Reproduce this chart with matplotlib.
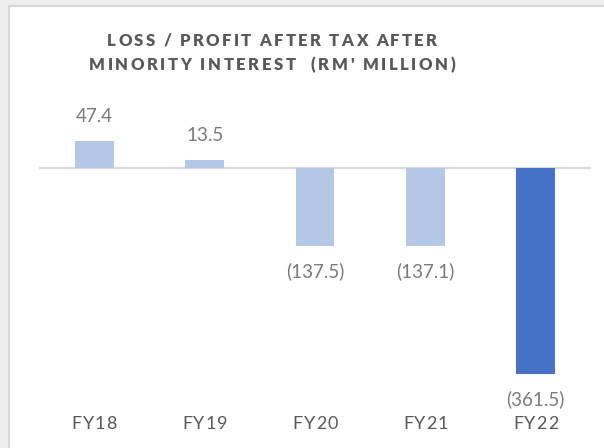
import matplotlib.pyplot as plt
from matplotlib.patches import Rectangle
from matplotlib.font_manager import FontProperties, findfont
from matplotlib.ft2font import FT2Font

# values
years = ["FY18", "FY19", "FY20", "FY21", "FY22"]
profit = [47.4, 13.5, -137.5, -137.1, -361.5]
bar_colors = ["#B4C7E7", "#B4C7E7", "#B4C7E7", "#B4C7E7", "#4472C4"]

title_lines = ["LOSS / PROFIT AFTER TAX AFTER", "MINORITY INTEREST  (RM' MILLION)"]

W, H = 604, 448
DPI = 100
cap_font = "Lato"


def fmt(v):
    if v < 0:
        return "({:.1f})".format(-v)
    return "{:.1f}".format(v)


def tracked(fig, xc, ybase, s, size, weight, color, width):
    # letter-spaced text, placed glyph by glyph with even gaps between glyph ink
    fp = FontProperties(family=cap_font, weight=weight, size=size)
    ft = FT2Font(findfont(fp))
    ft.set_size(size, DPI)
    widths = []
    for c in s:
        if c == " ":
            widths.append(ft.load_char(ord(c)).linearHoriAdvance / 65536)
        else:
            ft.set_text(c)
            widths.append(ft.get_width_height()[0] / 64)
    gap = (width - sum(widths)) / (len(s) - 1)
    xp = xc - width / 2
    for c, w in zip(s, widths):
        if c != " ":
            fig.text((xp + w / 2) / W, 1 - ybase / H, c, ha="center", va="baseline",
                     fontproperties=fp, color=color)
        xp += w + gap


fig = plt.figure(figsize=(W / DPI, H / DPI), dpi=DPI)
fig.patch.set_facecolor("#eeeeee")
fig.patches.append(Rectangle((9 / W, -0.01), 1, 1.01 - 6 / H, transform=fig.transFigure,
                             facecolor="white", edgecolor="#d6d6d6", linewidth=1.5,
                             zorder=-5))

ax = fig.add_axes([39 / W, 1 - 384.6 / H, (591 - 39) / W, 285 / H])
ax.set_facecolor("none")
x = range(len(years))
ax.bar(x, profit, width=0.35, color=bar_colors, zorder=2)
ax.axhline(0, color="#d9d9d9", linewidth=1.5, zorder=1)
ax.set_xlim(-0.5, 4.5)
ax.set_ylim(-380, 120)

for i, v in enumerate(profit):
    off = 17.5 if v >= 0 else -18
    ax.annotate(fmt(v), (i, v), xytext=(0, off), textcoords="offset points",
                ha="center", va="center", fontsize=13.5, color="#7a7a7a",
                family=["Lato", "DejaVu Sans"])

ax.set_xticks([])
ax.set_yticks([])
for s in ax.spines.values():
    s.set_visible(False)

# category labels, letter-spaced
for i, yr in enumerate(years):
    xpix = ax.transData.transform((i, 0))[0]
    tracked(fig, xpix, 429, yr, 13, "normal", "#595959", 45)

tracked(fig, 272, 46, title_lines[0], 12, "heavy", "#595959", 330)
tracked(fig, 272, 70, title_lines[1], 12, "heavy", "#595959", 366)

fig.savefig("out.png", dpi=DPI, facecolor=fig.get_facecolor())
